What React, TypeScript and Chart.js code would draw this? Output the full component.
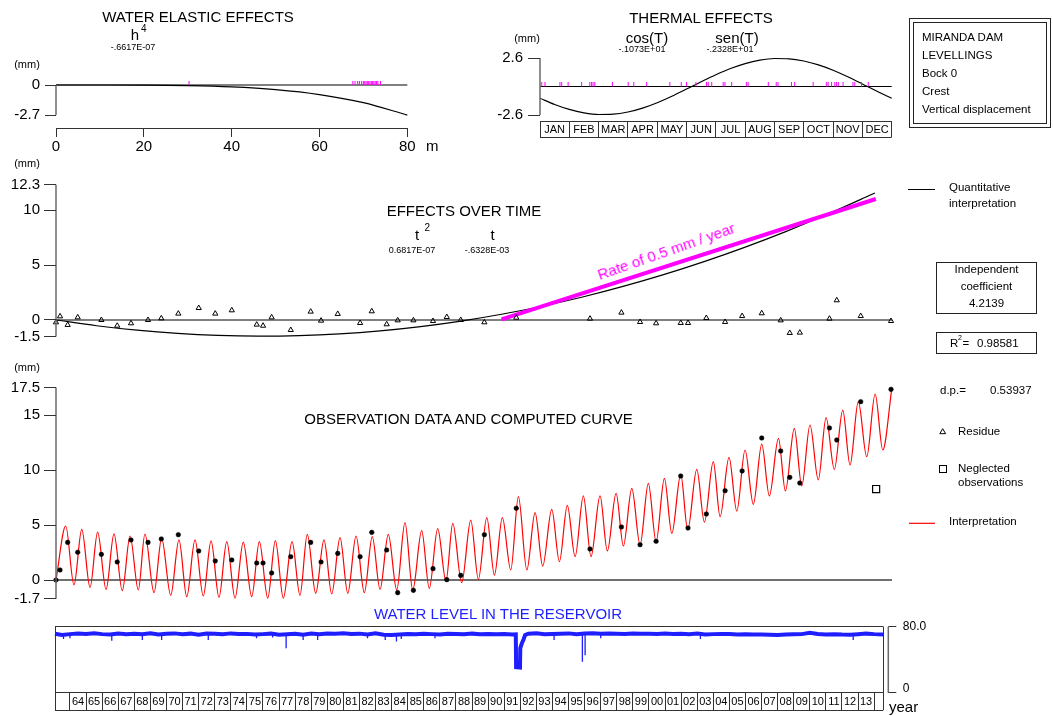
import React, { useEffect, useRef } from 'react';
import { Chart, registerables } from 'chart.js';

Chart.register(...registerables);

const W = 1053;
const H = 716;
const FONT = '"Liberation Sans", Arimo, Arial, Helvetica, sans-serif';
const MAGENTA = '#ff00ff';
const BLUE = '#1e1eff';
const RED = '#ff0000';
const AXIS = '#6a6a6a';
const TICK = '#333333';

// ---------------- DATA ----------------
// Water elastic effects: h (m) -> effect (mm)
const elasticLevels = [0, 10, 20, 30, 40, 50, 60, 70, 80];
const elasticEffect = [0, -0.001, -0.011, -0.054, -0.169, -0.414, -0.858, -1.589, -2.71];
const elasticObsLevels = [30.3, 67.6, 68.1, 68.7, 69.1, 69.6, 70.0, 70.3, 70.6, 70.9, 71.2, 71.5, 71.8, 72.1, 72.4, 72.7, 73.0, 73.3, 73.9];
const elasticXTicks = [0, 20, 40, 60, 80];
const elasticXLabels = ['0', '20', '40', '60', '80'];
const elasticYTicks = [0, -2.7];
const elasticYLabels = ['0', '-2.7'];

// Thermal effects: month of year -> effect (mm)
const thermalMonths = [0, 0.5, 1, 1.5, 2, 2.5, 3, 3.5, 4, 4.5, 5, 5.5, 6, 6.5, 7, 7.5, 8, 8.5, 9, 9.5, 10, 10.5, 11, 11.5, 12];
const thermalEffect = [-1.073, -1.639, -2.093, -2.405, -2.553, -2.526, -2.328, -1.971, -1.48, -0.887, -0.235, 0.434, 1.073, 1.639, 2.093, 2.405, 2.553, 2.526, 2.328, 1.971, 1.48, 0.887, 0.235, -0.434, -1.073];
const thermalObsMonths = [0.06, 0.17, 0.68, 0.74, 0.96, 1.42, 1.7, 1.76, 1.81, 1.87, 2.47, 3.01, 3.2, 3.64, 4.43, 4.82, 5.0, 5.32, 5.68, 5.74, 5.86, 6.25, 6.31, 6.54, 7.04, 7.1, 7.79, 8.06, 8.12, 8.58, 8.69, 9.32, 9.77, 9.83, 9.95, 10.06, 10.12, 10.18, 10.34, 10.68, 10.74, 10.97, 11.2];
const thermalYTicks = [2.6, -2.6];
const thermalYLabels = ['2.6', '-2.6'];
const monthLabels = ['JAN', 'FEB', 'MAR', 'APR', 'MAY', 'JUN', 'JUL', 'AUG', 'SEP', 'OCT', 'NOV', 'DEC'];

// Effects over time
const timeYears = [1963.1, 1965.6, 1968.1, 1970.6, 1973.1, 1975.6, 1978.1, 1980.6, 1983.1, 1985.6, 1988.1, 1990.6, 1993.1, 1995.6, 1998.1, 2000.6, 2003.1, 2005.6, 2008.1, 2010.6, 2013.1, 2013.65];
const timeEffect = [0, -0.521, -0.928, -1.222, -1.402, -1.468, -1.421, -1.26, -0.985, -0.596, -0.094, 0.521, 1.251, 2.094, 3.051, 4.122, 5.306, 6.604, 8.015, 9.54, 11.18, 11.55];
const rateYears = [1990.6, 2013.7];
const rateValues = [0.05, 11.0];
const timeYTicks = [12.3, 10, 5, 0, -1.5];
const timeYLabels = ['12.3', '10', '5', '0', '-1.5'];

// Observations, residues
const obsYears = [1963.1, 1963.35, 1963.82, 1964.44, 1965.9, 1966.88, 1967.73, 1968.78, 1969.6, 1970.65, 1971.91, 1972.93, 1973.95, 1975.49, 1975.88, 1976.41, 1977.59, 1978.82, 1979.46, 1980.49, 1981.87, 1982.59, 1983.51, 1984.19, 1985.16, 1986.37, 1987.22, 1988.08, 1989.54, 1991.51, 1996.06, 1998.0, 1999.15, 2000.14, 2001.66, 2002.11, 2003.24, 2004.4, 2005.45, 2006.66, 2007.83, 2008.39, 2009.01, 2010.84, 2011.29, 2012.77, 2014.64];
const obsValues = [0, 0.91, 3.42, 2.52, 2.33, 1.64, 3.64, 3.42, 3.73, 4.12, 2.64, 1.73, 1.82, 1.55, 1.55, 0.64, 2.12, 3.42, 1.64, 2.42, 2.12, 4.33, 2.73, -1.15, -0.94, 1.03, 0.03, 0.42, 4.12, 6.52, 2.82, 4.82, 3.21, 3.52, 9.45, 4.73, 6.0, 8.12, 9.91, 12.91, 11.73, 9.33, 8.82, 13.82, 12.73, 16.21, 17.33];
const residueValues = [-0.21, 0.33, -0.45, 0.24, 0, -0.52, -0.3, 0, 0.15, 0.58, 1.09, 0.58, 0.88, -0.42, -0.52, 0.24, -0.91, 0.76, -0.06, 0.55, -0.27, 0.79, -0.39, -0.03, -0.03, -0.09, 0.27, 0, -0.21, 0.21, 0.12, 0.67, -0.18, -0.3, -0.27, -0.27, 0.18, -0.18, 0.36, 0.61, -0.03, -1.18, -1.15, 0.12, 1.79, 0.36, -0.09];
const neglectedYears = [2013.72];
const neglectedValues = [8.27];

// Interpretation curve (successive extremes)
const interpYears = [1963.1, 1963.7, 1964.21, 1964.69, 1965.2, 1965.67, 1966.19, 1966.68, 1967.19, 1967.67, 1968.18, 1968.59, 1969.15, 1969.62, 1970.18, 1970.69, 1971.17, 1971.68, 1972.19, 1972.67, 1973.16, 1973.64, 1974.15, 1974.66, 1975.18, 1975.65, 1976.17, 1976.64, 1977.13, 1977.67, 1978.16, 1978.61, 1979.13, 1979.64, 1980.12, 1980.63, 1981.11, 1981.62, 1982.13, 1982.62, 1983.1, 1983.61, 1984.13, 1984.64, 1985.12, 1985.67, 1986.14, 1986.66, 1987.17, 1987.59, 1988.14, 1988.7, 1989.17, 1989.69, 1990.16, 1990.65, 1991.17, 1991.64, 1992.16, 1992.67, 1993.14, 1993.7, 1994.17, 1994.66, 1995.14, 1995.65, 1996.12, 1996.68, 1997.13, 1997.67, 1998.12, 1998.64, 1999.15, 1999.66, 2000.14, 2000.65, 2001.11, 2001.66, 2002.09, 2002.65, 2003.12, 2003.67, 2004.09, 2004.64, 2005.12, 2005.63, 2006.14, 2006.66, 2007.13, 2007.69, 2008.12, 2008.67, 2009.13, 2009.64, 2010.15, 2010.63, 2011.14, 2011.66, 2012.11, 2012.62, 2013.14, 2013.66, 2014.13, 2014.69];
const interpValues = [0, 4.91, -0.45, 4.6, -0.67, 4.36, -0.85, 4.2, -0.97, 4.0, -0.91, 4.18, -1.15, 3.79, -1.39, 3.64, -1.52, 3.64, -1.45, 3.55, -1.58, 3.48, -1.64, 3.45, -1.52, 3.48, -1.64, 3.58, -1.64, 3.48, -1.39, 4.15, -1.21, 3.64, -1.27, 3.85, -1.21, 4.0, -1.15, 3.94, -0.85, 4.15, -0.91, 5.21, -0.91, 4.48, -0.76, 4.67, -0.1, 5.15, -0.24, 5.45, 0.06, 5.67, 0.45, 5.67, 0.91, 7.58, 0.91, 6.12, 1.27, 6.42, 1.67, 6.79, 2.12, 7.64, 2.12, 7.64, 2.64, 7.88, 3.09, 8.33, 3.18, 8.79, 3.48, 9.24, 4.24, 9.61, 4.55, 10.06, 5.27, 10.76, 5.76, 11.15, 6.27, 11.82, 6.88, 12.36, 7.64, 12.88, 8.09, 13.79, 8.55, 14.09, 9.09, 14.76, 10.06, 15.45, 10.45, 16.21, 11.21, 16.91, 11.82, 17.42];
const obsYTicks = [17.5, 15, 10, 5, 0, -1.7];
const obsYLabels = ['17.5', '15', '10', '5', '0', '-1.7'];

// Water level in the reservoir
const levelYears = [
  1963.07, 1963.5, 1964.0, 1964.5, 1965.0, 1965.5, 1966.0, 1966.5, 1967.0, 1967.5,
  1968.0, 1968.5, 1969.0, 1969.5, 1970.0, 1970.5, 1971.0, 1971.5, 1972.0, 1972.5,
  1973.0, 1973.5, 1974.0, 1974.5, 1975.0, 1975.5, 1976.0, 1976.5, 1977.0, 1977.5,
  1978.0, 1978.5, 1979.0, 1979.5, 1980.0, 1980.5, 1981.0, 1981.5, 1982.0, 1982.5,
  1983.0, 1983.5, 1984.0, 1984.5, 1985.0, 1985.5, 1986.0, 1986.5, 1987.0, 1987.5,
  1988.0, 1988.5, 1989.0, 1989.5, 1990.0, 1990.5, 1991.0, 1991.5, 1991.72, 1991.74,
  1991.98, 1992.0, 1992.1, 1992.2, 1992.3, 1992.5, 1993.0, 1993.5, 1994.0, 1994.5,
  1995.0, 1995.5, 1996.0, 1996.5, 1997.0, 1997.5, 1998.0, 1998.5, 1999.0, 1999.5,
  2000.0, 2000.5, 2001.0, 2001.5, 2002.0, 2002.5, 2003.0, 2003.5, 2004.0, 2004.5,
  2005.0, 2005.5, 2006.0, 2006.5, 2007.0, 2007.5, 2008.0, 2008.5, 2009.0, 2009.5,
  2010.0, 2010.5, 2011.0, 2011.5, 2012.0, 2012.5, 2013.0, 2013.5, 2014.0, 2014.57,
];
const levelValues = [
  71.5, 70.0, 71.0, 71.8, 71.2, 72.0, 71.0, 70.6, 71.8, 71.0,
  71.5, 70.8, 71.9, 70.5, 71.4, 71.9, 71.0, 71.6, 70.4, 71.8,
  71.6, 71.0, 71.9, 71.2, 71.3, 70.5, 71.0, 71.6, 70.2, 70.8,
  71.5, 70.4, 71.6, 70.9, 71.8, 71.4, 72.0, 71.3, 71.6, 70.6,
  71.9, 70.2, 69.8, 70.4, 71.2, 70.8, 71.5, 71.0, 70.6, 71.4,
  71.2, 70.8, 71.6, 71.0, 71.3, 70.9, 71.0, 70.5, 70.8, 31.0,
  30.5, 54.0, 60.0, 64.5, 70.0, 71.5, 72.0, 70.8, 71.2, 71.6,
  71.9, 71.0, 71.7, 72.0, 71.5, 71.9, 71.6, 71.2, 71.8, 71.4,
  71.6, 71.2, 71.9, 71.3, 71.5, 71.0, 71.8, 70.6, 71.0, 71.3,
  71.2, 70.5, 70.8, 70.4, 70.6, 70.2, 70.0, 70.5, 70.8, 71.0,
  72.6, 71.2, 70.6, 70.9, 70.4, 70.2, 70.8, 71.6, 71.0, 70.6,
];
const spikeYears = [1963.6, 1964.0, 1966.6, 1968.5, 1969.7, 1972.6, 1975.6, 1976.6, 1977.44, 1978.5, 1979.4, 1982.5, 1983.6, 1984.3, 1984.6, 1986.7, 1994.1, 1995.86, 1996.03, 1997.0, 2003.2, 2012.7];
const spikeValues = [65, 66, 63, 64, 64, 64, 66, 67, 54, 64, 64, 66, 64, 62, 65, 66, 64, 37.6, 45.3, 66, 65, 64];
const spikeTop = 71;
const levelYTicks = [80, 0];
const levelYLabels = ['80.0', '0'];
const yearLabels = ['64', '65', '66', '67', '68', '69', '70', '71', '72', '73', '74', '75', '76', '77', '78', '79', '80', '81', '82', '83', '84', '85', '86', '87', '88', '89', '90', '91', '92', '93', '94', '95', '96', '97', '98', '99', '00', '01', '02', '03', '04', '05', '06', '07', '08', '09', '10', '11', '12', '13'];
const firstLabelYear = 1964;

// ---------------- HELPERS ----------------
type Area = [number, number, number, number];

function makeOptions(area: Area, xr: [number, number], yr: [number, number]): any {
  const [l, t, r, b] = area;
  return {
    responsive: false,
    maintainAspectRatio: false,
    animation: false,
    devicePixelRatio: 1,
    events: [],
    layout: { autoPadding: false, padding: { left: l, top: t, right: W - r, bottom: H - b } },
    plugins: { legend: { display: false }, tooltip: { enabled: false }, title: { display: false } },
    scales: {
      x: { type: 'linear', display: false, min: xr[0], max: xr[1] },
      y: { type: 'linear', display: false, min: yr[0], max: yr[1] },
    },
  };
}

const xy = (xs: number[], ys: (number | null)[]) => xs.map((x, i) => ({ x, y: ys[i] }));

function curve(data: any[], color: string, width: number, smooth = true): any {
  return {
    type: 'line', data, borderColor: color, borderWidth: width, pointRadius: 0, fill: false,
    clip: false, tension: 0, cubicInterpolationMode: smooth ? 'monotone' : 'default', spanGaps: false,
  };
}

function marks(data: any[], style: string, radius: number, stroke: string, fill: string, rotation = 0, bw = 1): any {
  return {
    type: 'line', data, showLine: false, pointStyle: style, pointRadius: radius,
    pointBorderColor: stroke, pointBackgroundColor: fill, pointBorderWidth: bw, pointRotation: rotation, clip: false,
  };
}

const snap = (v: number) => Math.round(v - 0.5) + 0.5;

function seg(ctx: CanvasRenderingContext2D, x1: number, y1: number, x2: number, y2: number, color = '#000', w = 1) {
  ctx.save();
  if (w === 1) {
    if (y1 === y2) { y1 = snap(y1); y2 = y1; }
    if (x1 === x2) { x1 = snap(x1); x2 = x1; }
  }
  ctx.strokeStyle = color;
  ctx.lineWidth = w;
  ctx.beginPath();
  ctx.moveTo(x1, y1);
  ctx.lineTo(x2, y2);
  ctx.stroke();
  ctx.restore();
}

function label(ctx: CanvasRenderingContext2D, s: string, x: number, y: number, size: number, align: CanvasTextAlign = 'center', color = '#000') {
  ctx.save();
  ctx.font = `${size}px ${FONT}`;
  ctx.fillStyle = color;
  ctx.textAlign = align;
  ctx.textBaseline = 'middle';
  ctx.fillText(s, x, y);
  ctx.restore();
}

function leftAxis(chart: any, ticks: number[], labels: string[], tickLen: number, gap: number) {
  const { ctx, scales } = chart;
  const xs = scales.x;
  const ys = scales.y;
  const x0 = xs.getPixelForValue(xs.min);
  const py = ticks.map((t) => ys.getPixelForValue(t));
  seg(ctx, x0, Math.min(...py), x0, Math.max(...py), AXIS, 1.5);
  py.forEach((p, i) => {
    seg(ctx, x0 - tickLen, p, x0, p, TICK, 1);
    label(ctx, labels[i], x0 - gap, p, 15, 'right');
  });
}

// ---------------- CHART BUILDERS ----------------
function buildElastic(): any {
  const zero = [{ x: elasticXTicks[0], y: 0 }, { x: elasticXTicks[elasticXTicks.length - 1], y: 0 }];
  return {
    type: 'line',
    data: {
      datasets: [
        marks(elasticObsLevels.map((h) => ({ x: h, y: 0.18 })), 'line', 2, MAGENTA, MAGENTA, 90),
        curve(xy(elasticLevels, elasticEffect), '#000', 1.2),
        curve(zero, '#000', 1, false),
      ],
    },
    options: makeOptions([56, 85, 407.3, 115], [0, 80], [-2.7, 0]),
    plugins: [{
      id: 'elasticDecor',
      afterDraw(chart: any) {
        const { ctx, scales } = chart;
        leftAxis(chart, elasticYTicks, elasticYLabels, 11, 16);
        const xs = scales.x;
        const yb = scales.y.getPixelForValue(-2.7) + 13;
        seg(ctx, xs.getPixelForValue(0), yb, xs.getPixelForValue(80), yb, TICK, 1);
        elasticXTicks.forEach((t, i) => {
          const px = xs.getPixelForValue(t);
          seg(ctx, px, yb, px, yb + 9, TICK, 1);
          label(ctx, elasticXLabels[i], px, yb + 18.5, 15);
        });
        label(ctx, 'm', xs.getPixelForValue(80) + 25, yb + 18.5, 15);
      },
    }],
  };
}

function buildThermal(): any {
  const zero = [{ x: 0, y: 0 }, { x: 12, y: 0 }];
  return {
    type: 'line',
    data: {
      datasets: [
        marks(thermalObsMonths.map((m) => ({ x: m, y: 0.205 })), 'line', 2.25, MAGENTA, MAGENTA, 90),
        curve(xy(thermalMonths, thermalEffect), '#000', 1.2),
        curve(zero, '#000', 1, false),
      ],
    },
    options: makeOptions([540, 58, 891.7, 115], [0, 12], [-2.6, 2.6]),
    plugins: [{
      id: 'thermalDecor',
      afterDraw(chart: any) {
        const { ctx, scales } = chart;
        leftAxis(chart, thermalYTicks, thermalYLabels, 12, 17);
        const xs = scales.x;
        const top = scales.y.getPixelForValue(-2.6) + 6;
        const bot = top + 16;
        const l = xs.getPixelForValue(0);
        const r = xs.getPixelForValue(12);
        seg(ctx, l, top, r, top, TICK, 1);
        seg(ctx, l, bot, r, bot, TICK, 1);
        for (let i = 0; i <= 12; i++) {
          const px = xs.getPixelForValue(i);
          seg(ctx, px, top, px, bot, TICK, 1);
        }
        monthLabels.forEach((m, i) => label(ctx, m, xs.getPixelForValue(i + 0.5), (top + bot) / 2 + 0.5, 11));
      },
    }],
  };
}

function buildTime(): any {
  const zero = [{ x: 1963.1, y: 0 }, { x: 2014.7, y: 0 }];
  return {
    type: 'line',
    data: {
      datasets: [
        marks(xy(obsYears, residueValues), 'triangle', 3, '#000', 'rgba(0,0,0,0)', 0, 1),
        curve(xy(rateYears, rateValues), MAGENTA, 4, false),
        curve(xy(timeYears, timeEffect), '#000', 1.2),
        curve(zero, '#000', 1, false),
      ],
    },
    options: makeOptions([56, 184.7, 892, 336.5], [1963.1, 2014.7], [-1.5, 12.3]),
    plugins: [{
      id: 'timeDecor',
      afterDraw(chart: any) {
        const { ctx } = chart;
        leftAxis(chart, timeYTicks, timeYLabels, 12, 16);
        seg(ctx, 908, 189, 935, 189, '#000', 1);
      },
    }],
  };
}

function buildObs(): any {
  const zero = [{ x: 1963.1, y: 0 }, { x: 2014.7, y: 0 }];
  return {
    type: 'line',
    data: {
      datasets: [
        marks(xy(obsYears, obsValues), 'circle', 2.3, '#000', '#000', 0, 0.5),
        marks(xy(neglectedYears, neglectedValues), 'rect', 5, '#000', 'rgba(0,0,0,0)', 0, 1.2),
        curve(xy(interpYears, interpValues), RED, 1.2),
        curve(zero, '#707070', 2, false),
      ],
    },
    options: makeOptions([56, 387.5, 892, 598.7], [1963.1, 2014.7], [-1.7, 17.5]),
    plugins: [{
      id: 'obsDecor',
      afterDraw(chart: any) {
        const { ctx } = chart;
        leftAxis(chart, obsYTicks, obsYLabels, 12, 16);
        // legend symbols
        ctx.save();
        ctx.strokeStyle = '#000';
        ctx.lineWidth = 1;
        ctx.beginPath();
        ctx.moveTo(942.7, 428.7);
        ctx.lineTo(945.6, 433.7);
        ctx.lineTo(939.8, 433.7);
        ctx.closePath();
        ctx.stroke();
        ctx.strokeRect(939.5, 465.5, 7, 7);
        ctx.restore();
        seg(ctx, 909, 523.3, 935, 523.3, RED, 1.2);
      },
    }],
  };
}

function buildLevel(): any {
  const spikes = spikeYears.flatMap((yr, i) => [{ x: yr, y: spikeTop }, { x: yr, y: spikeValues[i] }, { x: yr, y: null }]);
  return {
    type: 'line',
    data: {
      datasets: [
        curve(xy(levelYears, levelValues), BLUE, 4, false),
        curve(spikes, BLUE, 1.3, false),
      ],
    },
    options: makeOptions([55, 626.7, 883.3, 692.7], [1963.07, 2014.57], [0, 80]),
    plugins: [{
      id: 'levelDecor',
      afterDraw(chart: any) {
        const { ctx, scales } = chart;
        const xs = scales.x;
        const ys = scales.y;
        const l = xs.getPixelForValue(xs.min);
        const r = xs.getPixelForValue(xs.max);
        const top = ys.getPixelForValue(80);
        const bot = ys.getPixelForValue(0);
        const rowB = bot + 17.3;
        seg(ctx, l, top, r, top, TICK, 1);
        seg(ctx, l, bot, r, bot, TICK, 1);
        seg(ctx, l, rowB, r, rowB, TICK, 1);
        seg(ctx, l, top, l, rowB, TICK, 1);
        seg(ctx, r, top, r, rowB, TICK, 1);
        yearLabels.forEach((lab, i) => {
          const yr = firstLabelYear + i;
          const px = xs.getPixelForValue(yr);
          seg(ctx, px, bot, px, rowB, TICK, 1);
          label(ctx, lab, xs.getPixelForValue(yr + 0.5), (bot + rowB) / 2 + 0.5, 11);
        });
        const pEnd = xs.getPixelForValue(firstLabelYear + yearLabels.length);
        seg(ctx, pEnd, bot, pEnd, rowB, TICK, 1);
        // right axis
        const xr = r + 5;
        const py = levelYTicks.map((t) => ys.getPixelForValue(t));
        seg(ctx, xr, Math.min(...py), xr, Math.max(...py), AXIS, 1.5);
        py.forEach((p, i) => {
          seg(ctx, xr, p, xr + 8, p, TICK, 1);
          label(ctx, levelYLabels[i], xr + 14.5, i === py.length - 1 ? p - 4 : p, 12, 'left');
        });
      },
    }],
  };
}

// ---------------- COMPONENTS ----------------
function Layer({ build }: { build: () => any }) {
  const ref = useRef<HTMLCanvasElement | null>(null);
  useEffect(() => {
    if (!ref.current) return;
    const chart = new Chart(ref.current, build());
    return () => chart.destroy();
  }, [build]);
  return (
    <canvas
      ref={ref}
      width={W}
      height={H}
      style={{ position: 'absolute', left: 0, top: 0, width: W, height: H }}
    />
  );
}

function T({ x, y, s = 12, a = 'l', c = '#000', rot, children }: any) {
  const tx = a === 'c' ? '-50%' : a === 'r' ? '-100%' : '0';
  return (
    <div
      style={{
        position: 'absolute', left: x, top: y, fontSize: s, lineHeight: 1, color: c,
        whiteSpace: 'nowrap', fontFamily: FONT,
        transform: `translate(${tx}, -50%)${rot ? ` rotate(${rot}deg)` : ''}`,
      }}
    >
      {children}
    </div>
  );
}

function Box({ x, y, w, h }: any) {
  return <div style={{ position: 'absolute', left: x, top: y, width: w, height: h, border: '1px solid #222', boxSizing: 'border-box' }} />;
}

export default function App() {
  return (
    <div style={{ position: 'absolute', left: 0, top: 0, width: W, height: H, background: '#fff', overflow: 'hidden', fontFamily: FONT }}>
      <Layer build={buildElastic} />
      <Layer build={buildThermal} />
      <Layer build={buildTime} />
      <Layer build={buildObs} />
      <Layer build={buildLevel} />

      {/* Water elastic effects */}
      <T x={198} y={16} s={15} a="c">WATER ELASTIC EFFECTS</T>
      <T x={135} y={34} s={15} a="c">h</T>
      <T x={141} y={28.5} s={10}>4</T>
      <T x={133} y={47} s={9} a="c">-.6617E-07</T>
      <T x={27} y={64} s={11} a="c">(mm)</T>

      {/* Thermal effects */}
      <T x={701} y={17} s={15} a="c">THERMAL EFFECTS</T>
      <T x={647} y={36.5} s={15} a="c">cos(T)</T>
      <T x={737} y={36.5} s={15} a="c">sen(T)</T>
      <T x={642} y={48.5} s={9} a="c">-.1073E+01</T>
      <T x={730} y={48.5} s={9} a="c">-.2328E+01</T>
      <T x={527} y={38} s={11} a="c">(mm)</T>

      {/* Info box */}
      <Box x={909} y={18} w={142} h={110} />
      <Box x={913} y={22} w={134} h={102} />
      <T x={922} y={37.5} s={11.5}>MIRANDA DAM</T>
      <T x={922} y={56} s={11.5}>LEVELLINGS</T>
      <T x={922} y={74} s={11.5}>Bock 0</T>
      <T x={922} y={91.5} s={11.5}>Crest</T>
      <T x={922} y={109.5} s={11.5}>Vertical displacement</T>

      {/* Effects over time */}
      <T x={27} y={163} s={11} a="c">(mm)</T>
      <T x={464} y={210} s={15} a="c">EFFECTS OVER TIME</T>
      <T x={417} y={234} s={15} a="c">t</T>
      <T x={424.5} y={228} s={10}>2</T>
      <T x={412} y={250} s={9} a="c">0.6817E-07</T>
      <T x={492.7} y={234} s={15} a="c">t</T>
      <T x={487} y={250} s={9} a="c">-.6328E-03</T>
      <T x={666} y={251} s={15} a="c" c={MAGENTA} rot={-19.3}>Rate of 0.5 mm / year</T>
      <T x={949} y={188} s={11.5}>Quantitative</T>
      <T x={949} y={203.5} s={11.5}>interpretation</T>
      <Box x={936} y={262} w={101} h={52} />
      <T x={986.5} y={269.5} s={11.5} a="c">Independent</T>
      <T x={986.5} y={286.5} s={11.5} a="c">coefficient</T>
      <T x={986.5} y={304} s={11.5} a="c">4.2139</T>
      <Box x={936} y={332} w={101} h={22} />
      <T x={950} y={343.5} s={11.5}>R</T>
      <T x={958} y={337} s={7}>2</T>
      <T x={962.5} y={343.5} s={11.5}>=</T>
      <T x={977} y={343.5} s={11.5}>0.98581</T>

      {/* Observation data */}
      <T x={27} y={367} s={11} a="c">(mm)</T>
      <T x={468.5} y={418} s={15} a="c">OBSERVATION DATA AND COMPUTED CURVE</T>
      <T x={940} y={391} s={11.5}>d.p.=</T>
      <T x={990} y={391} s={11.5}>0.53937</T>
      <T x={958} y={432} s={11.5}>Residue</T>
      <T x={958} y={469} s={11.5}>Neglected</T>
      <T x={958} y={482.5} s={11.5}>observations</T>
      <T x={949} y={522} s={11.5}>Interpretation</T>

      {/* Water level */}
      <T x={498} y={613.3} s={15} a="c" c={BLUE}>WATER LEVEL IN THE RESERVOIR</T>
      <T x={889} y={705.5} s={15}>year</T>
    </div>
  );
}
